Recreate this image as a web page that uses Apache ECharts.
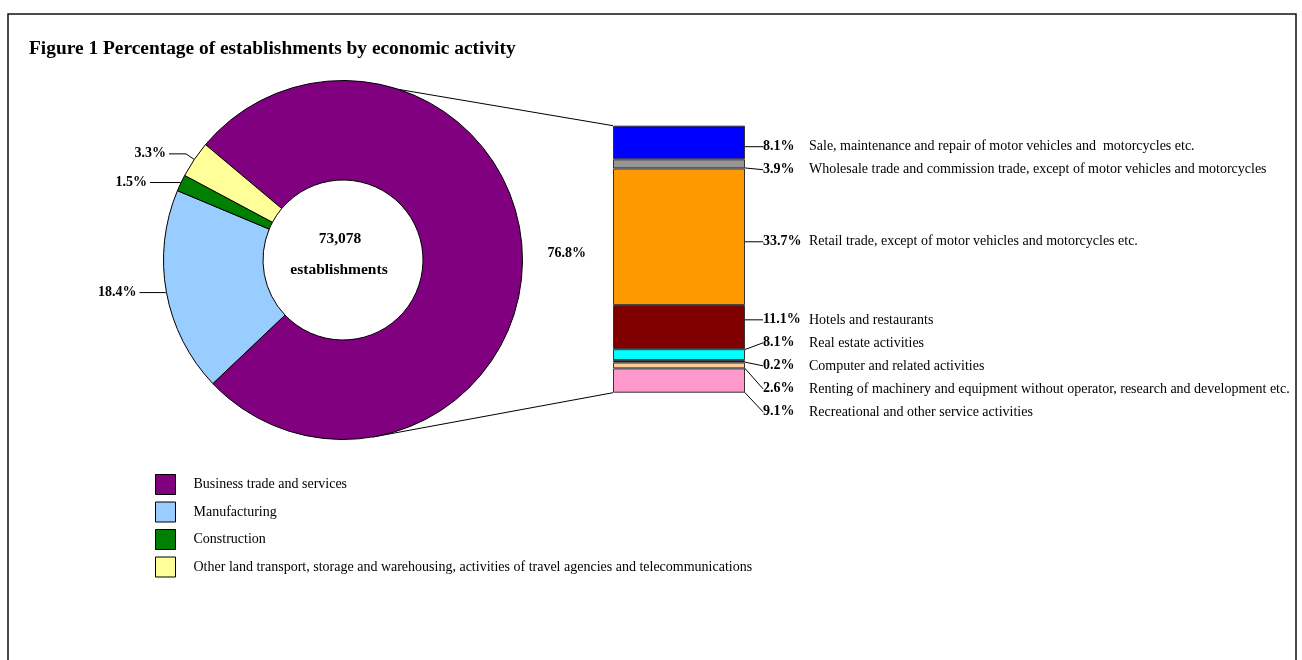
<!DOCTYPE html>
<html><head><meta charset="utf-8">
<script src="https://cdn.jsdelivr.net/npm/echarts@6/dist/echarts.min.js"></script>
<style>html,body{margin:0;padding:0;background:#fff}#c{width:1302px;height:660px}</style>
</head><body><div id="c"></div>
<script>
// ---------------- data ----------------
const pieCategories = [
  'Business trade and services',
  'Manufacturing',
  'Construction',
  'Other land transport, storage and warehousing, activities of travel agencies and telecommunications'
];
const pieValues = [76.8, 18.4, 1.5, 3.3];
const totalEstablishments = 73078;

const barCategories = [
  'Sale, maintenance and repair of motor vehicles and  motorcycles etc.',
  'Wholesale trade and commission trade, except of motor vehicles and motorcycles',
  'Retail trade, except of motor vehicles and motorcycles etc.',
  'Hotels and restaurants',
  'Real estate activities',
  'Computer and related activities',
  'Renting of machinery and equipment without operator, research and development etc.',
  'Recreational and other service activities'
];
const barLabelPercents = [8.1, 3.9, 33.7, 11.1, 8.1, 0.2, 2.6, 9.1];
// segment heights as drawn in the breakdown bar (share of the bar, %)
const barSegmentShares = [12.6, 3.4, 51.2, 16.5, 4.1, 0.9, 2.2, 9.1];

// ---------------- styles / layout ----------------
const FONT = 'Liberation Serif';
const pieColors = ['#800080', '#99CCFF', '#008000', '#FFFF99'];
const barColors = ['#0000FF', '#969696', '#FF9900', '#800000', '#00FFFF', '#000000', '#FFCC99', '#FF99CC'];
const PIE_CX = 343, PIE_CY = 260, R_OUT = 179.5, R_IN = 80;
const BAR_GRID = { left: 613, top: 125.7, width: 132, height: 267 };
const pieLabelLines = [
  { show: false, length: 22, length2: 0 },
  { show: true, length: 1, length2: 26 },
  { show: true, length: 1, length2: 30 },
  { show: true, length: 10, length2: 17 }
];
const LABEL_GAP = 23, LABEL_OFFSET = 5;

const barTotal = barSegmentShares.reduce((a, b) => a + b, 0);
const cum = [];
barSegmentShares.reduce((acc, v, i) => { cum[i] = acc; return acc + v; }, 0);

function spread(pos, gap) {
  let clusters = pos.map((p, i) => ({ first: i, n: 1 }));
  const startOf = c => {
    let s = 0;
    for (let k = 0; k < c.n; k++) s += pos[c.first + k] - k * gap;
    return s / c.n;
  };
  let changed = true;
  while (changed) {
    changed = false;
    for (let k = 0; k < clusters.length - 1; k++) {
      const a = clusters[k], b = clusters[k + 1];
      if (startOf(a) + a.n * gap > startOf(b)) {
        clusters.splice(k, 2, { first: a.first, n: a.n + b.n });
        changed = true;
        break;
      }
    }
  }
  const out = [];
  clusters.forEach(c => {
    const s = startOf(c);
    for (let k = 0; k < c.n; k++) out[c.first + k] = s + k * gap;
  });
  return out;
}

function layoutBarLabel(params) {
  const i = params.seriesIndex - 1;
  const r = params.rect;
  const scale = r.height / barSegmentShares[i];
  const top = r.y - cum[i] * scale;
  const mids = barSegmentShares.map((v, k) => top + (cum[k] + v / 2) * scale + LABEL_OFFSET);
  const ys = spread(mids, LABEL_GAP);
  // bottom cluster sits a little lower in the original
  const y = ys[i] + (i >= 3 ? 3 : 0);
  const x0 = r.x + r.width;
  const mid = r.y + r.height / 2;
  const startY = Math.abs(y - mid) < 6 && y >= r.y && y <= r.y + r.height ? y : mid;
  return {
    x: x0 + 18, y: y, align: 'left', verticalAlign: 'middle',
    labelLinePoints: [[x0, startY], [x0 + 11, y], [x0 + 17, y]]
  };
}

function piePoint(deg) {
  const a = deg * Math.PI / 180;
  return [PIE_CX + R_OUT * Math.sin(a), PIE_CY - R_OUT * Math.cos(a)];
}
const topPt = piePoint(18.2), botPt = piePoint(170.5);

const chart = echarts.init(document.getElementById('c'));

const series = [{
  type: 'pie',
  center: [PIE_CX, PIE_CY],
  radius: [R_IN, R_OUT],
  startAngle: 140,
  clockwise: true,
  avoidLabelOverlap: false,
  animation: false,
  itemStyle: { borderColor: '#000', borderWidth: 1 },
  emphasis: { disabled: true },
  label: {
    show: true, position: 'outside',
    formatter: p => p.value.toFixed(1) + '%',
    fontFamily: FONT, fontWeight: 'bold', fontSize: 14, color: '#000',
    distanceToLabelLine: 3
  },
  labelLine: { show: true, lineStyle: { color: '#000', width: 1 } },
  data: pieCategories.map((n, i) => ({
    name: n, value: pieValues[i],
    itemStyle: { color: pieColors[i] },
    labelLine: pieLabelLines[i]
  }))
}];

barCategories.forEach((name, i) => {
  series.push({
    type: 'bar', name: name, stack: 'biz',
    data: [barSegmentShares[i]],
    barWidth: '100%',
    animation: false,
    emphasis: { disabled: true },
    itemStyle: { color: barColors[i], borderColor: '#333', borderWidth: 1 },
    label: {
      show: true, position: 'right',
      formatter: '{p|' + barLabelPercents[i].toFixed(1) + '%}{n|' + name + '}',
      rich: {
        p: { fontFamily: FONT, fontWeight: 'bold', fontSize: 14, color: '#000', width: 46 },
        n: { fontFamily: FONT, fontSize: 14, color: '#000' }
      }
    },
    labelLine: { show: true, lineStyle: { color: '#000', width: 1 } },
    labelLayout: layoutBarLabel
  });
});

chart.setOption({
  backgroundColor: '#fff',
  animation: false,
  title: {
    text: 'Figure 1 Percentage of establishments by economic activity',
    left: 29, top: 39, padding: 0,
    textStyle: { fontFamily: FONT, fontWeight: 'bold', fontSize: 19.4, color: '#000' }
  },
  legend: {
    data: pieCategories,
    orient: 'vertical', left: 155, top: 474, padding: 0,
    itemWidth: 20, itemHeight: 20, itemGap: 6.5, icon: 'rect',
    selectedMode: false,
    itemStyle: { borderColor: '#000', borderWidth: 1 },
    textStyle: { fontFamily: FONT, fontSize: 14, color: '#000', padding: [0, 0, 0, 13] }
  },
  grid: BAR_GRID,
  xAxis: { type: 'category', data: ['Business trade and services'], show: false },
  yAxis: { type: 'value', min: 0, max: barTotal, inverse: true, show: false },
  graphic: [
    { type: 'rect', silent: true, z: -10, shape: { x: 8, y: 14, width: 1288, height: 700 },
      style: { fill: 'none', stroke: '#111', lineWidth: 1.5 } },
    { type: 'text', silent: true, x: PIE_CX - 3, y: PIE_CY - 21,
      style: { text: totalEstablishments.toLocaleString('en-US'), fontFamily: FONT, fontWeight: 'bold', fontSize: 15.5, fill: '#000', align: 'center', verticalAlign: 'middle' } },
    { type: 'text', silent: true, x: PIE_CX - 4, y: PIE_CY + 10,
      style: { text: 'establishments', fontFamily: FONT, fontWeight: 'bold', fontSize: 15.5, fill: '#000', align: 'center', verticalAlign: 'middle' } },
    { type: 'line', silent: true, shape: { x1: topPt[0], y1: topPt[1], x2: BAR_GRID.left, y2: BAR_GRID.top },
      style: { stroke: '#000', lineWidth: 1 } },
    { type: 'line', silent: true, shape: { x1: botPt[0], y1: botPt[1], x2: BAR_GRID.left, y2: BAR_GRID.top + BAR_GRID.height },
      style: { stroke: '#000', lineWidth: 1 } }
  ],
  series: series
});
</script>
</body></html>
